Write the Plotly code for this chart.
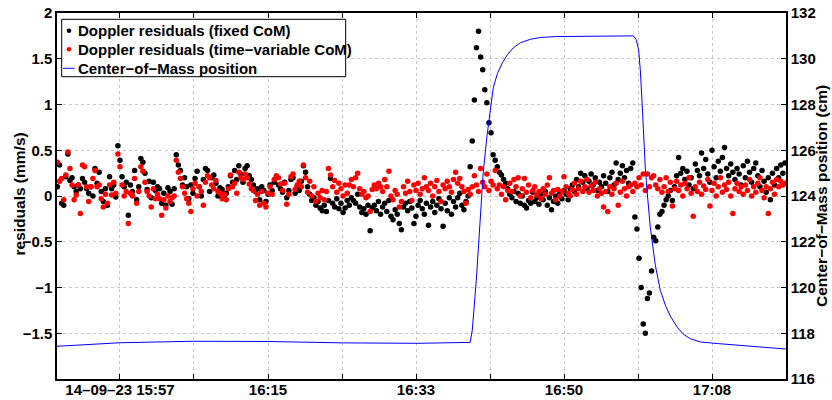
import plotly.graph_objects as go
import pandas as pd

# ---------------- data ----------------
DATE = "2014-09-23"
SAMPLE_START = "15:49:30"
SAMPLE_STEP = "15s"

fixed_com = [
    0.1, 0.34, -0.08, -0.1, 0.21, 0.46, 0.17, 0.2, 0.1, 0.05,
    0.12, 0.08, 0.19, 0.15, 0.08, 0.03, 0.1, 0.0, 0.3, 0.14,
    0.26, 0.05, -0.06, 0.08, -0.1, 0.21, 0.08, 0.12, -0.01, 0.55,
    0.39, 0.21, 0.1, 0.15, -0.21, 0.12, 0.05, 0.28, -0.04, 0.1,
    0.41, 0.37, 0.25, 0.07, 0.16, -0.02, 0.15, 0.06, 0.1, 0.08,
    -0.08, 0.03, -0.1, 0.09, 0.05, -0.09, 0.08, 0.45, 0.34, 0.28,
    0.12, 0.2, 0.1, -0.03, 0.12, 0.03, 0.19, 0.27, 0.1, 0.0,
    0.18, 0.3, 0.28, 0.05, 0.2, 0.23, 0.14, 0.0, 0.09, 0.07,
    0.0, 0.03, 0.1, 0.22, 0.15, 0.28, 0.18, 0.33, 0.24, 0.15,
    0.3, 0.33, 0.22, 0.18, 0.12, 0.05, 0.08, -0.04, 0.1, 0.06,
    -0.06, 0.02, 0.12, 0.06, 0.15, 0.2, 0.12, 0.08, 0.04, 0.15,
    -0.02, 0.06, 0.18, 0.2, 0.03, 0.1, 0.06, 0.16, 0.33, 0.26,
    0.1, 0.02, -0.05, -0.02, -0.1, -0.06, -0.13, -0.16, -0.1, -0.17,
    -0.05, 0.19, -0.08, -0.12, -0.03, -0.14, -0.08, -0.18, -0.13, -0.05,
    -0.1, -0.02, -0.05, -0.08, 0.02, -0.12, -0.18, -0.14, -0.2, -0.1,
    -0.38, -0.13, -0.1, -0.16, -0.06, -0.2, -0.12, -0.08, -0.17, -0.05,
    -0.22, -0.26, -0.15, -0.2, -0.3, -0.37, -0.12, -0.08, -0.16, -0.06,
    -0.13, -0.3, -0.22, -0.1, -0.05, -0.14, -0.2, -0.08, -0.32, -0.12,
    -0.06, -0.18, -0.1, -0.03, -0.14, -0.33, -0.08, -0.16, -0.02, -0.2,
    -0.06, -0.12, -0.02, 0.03, -0.1, -0.15, -0.06, 0.0, 0.32, 0.6,
    1.05, 1.62, 1.8, 1.52, 1.38, 1.16, 1.02, 0.8, 0.69, 0.45,
    0.39, 0.32, 0.26, 0.23, 0.18, 0.14, 0.08, 0.02, -0.02, 0.05,
    -0.06, 0.03, -0.08, 0.0, -0.1, -0.13, -0.05, -0.08, 0.04, -0.06,
    -0.02, -0.09, 0.02, -0.04, 0.05, -0.1, -0.02, -0.15, -0.06, 0.0,
    -0.08, 0.03, -0.03, 0.06, 0.02, -0.04, 0.08, 0.12, 0.05, 0.18,
    0.1, 0.25, 0.15, 0.22, 0.08, 0.16, 0.24, 0.12, 0.2, 0.06,
    0.15, 0.1, 0.22, 0.14, 0.05, 0.2, 0.26, 0.12, 0.36, 0.18,
    0.25, 0.33, 0.2, 0.28, 0.14, 0.3, 0.36, -0.23, -0.36, -0.68,
    -1.0, -1.4, -1.5, -1.12, -1.06, -0.82, -0.45, -0.49, -0.34, -0.2,
    -0.17, -0.1, -0.04, 0.0, 0.06, -0.05, 0.1, 0.22, 0.42, 0.25,
    0.3, 0.18, 0.27, 0.12, 0.2, 0.08, 0.35, 0.28, 0.22, 0.47,
    0.3, 0.4, 0.24, 0.15, 0.5, 0.32, 0.2, 0.38, 0.27, 0.42,
    0.53, 0.3, 0.22, 0.35, 0.26, 0.18, 0.3, 0.24, 0.12, 0.33,
    0.2, 0.38, 0.26, 0.15, 0.3, 0.36, 0.22, 0.1, 0.28, 0.16,
    0.04, 0.2, -0.04, 0.25, 0.12, 0.3, 0.2, 0.34, 0.25, 0.36,
]

variable_com = [
    0.37, 0.16, 0.19, -0.04, 0.23, 0.48, 0.3, 0.12, -0.04, 0.01,
    0.12, -0.19, 0.34, 0.32, 0.1, -0.06, 0.1, 0.19, 0.28, 0.1,
    0.12, -0.03, -0.12, 0.02, -0.08, 0.12, 0.01, 0.15, 0.03, 0.46,
    0.32, 0.12, 0.0, 0.05, -0.3, 0.03, 0.0, 0.19, -0.08, 0.05,
    0.32, 0.27, 0.15, 0.05, 0.0, -0.12, 0.08, -0.03, 0.02, -0.03,
    -0.21, -0.04, -0.13, 0.0, -0.06, -0.02, 0.0, 0.39, 0.26, 0.19,
    0.1, 0.03, -0.03, -0.08, -0.17, 0.08, 0.14, 0.0, 0.1, 0.05,
    -0.1, 0.15, 0.22, 0.2, 0.12, 0.08, 0.17, 0.05, 0.03, -0.03,
    0.02, -0.04, 0.08, 0.23, 0.1, 0.14, 0.03, 0.26, 0.2, 0.18,
    0.24, 0.2, 0.13, 0.08, 0.06, -0.05, 0.02, -0.1, 0.05, -0.08,
    -0.12, 0.03, 0.1, 0.02, 0.18, 0.22, 0.2, 0.13, 0.06, 0.14,
    -0.09, 0.02, 0.21, 0.24, 0.07, 0.12, 0.16, 0.1, 0.34, 0.2,
    0.04, 0.16, 0.0, 0.1, -0.06, 0.03, -0.02, 0.06, -0.04, 0.05,
    0.3, 0.23, 0.1, 0.17, 0.04, 0.14, 0.08, 0.0, 0.12, 0.03,
    0.12, 0.18, 0.1, 0.2, 0.25, 0.08, 0.02, 0.05, -0.02, 0.0,
    -0.17, 0.07, 0.12, 0.08, 0.14, 0.1, 0.05, 0.18, 0.1, 0.27,
    0.0, -0.04, 0.06, 0.02, -0.12, -0.06, 0.1, 0.03, 0.16, 0.05,
    -0.05, 0.12, 0.06, 0.14, 0.02, 0.08, 0.2, 0.1, 0.06, 0.14,
    0.0, 0.1, 0.17, 0.05, -0.06, 0.12, 0.08, 0.16, 0.1, 0.04,
    0.18, 0.26, 0.14, 0.19, 0.1, 0.05, -0.08, 0.07, 0.02, 0.1,
    0.22, 0.12, 0.05, 0.3, 0.15, 0.1, 0.24, 0.06, 0.16, 0.12,
    0.28, 0.08, 0.12, 0.02, 0.1, -0.04, 0.06, 0.14, 0.05, 0.18,
    0.1, 0.2, 0.0, 0.08, 0.19, 0.04, 0.12, -0.02, 0.06, 0.1,
    0.01, 0.05, -0.03, 0.08, 0.02, 0.12, 0.2, 0.03, 0.06, -0.04,
    0.07, 0.0, 0.05, 0.21, 0.1, 0.03, 0.0, 0.07, 0.14, 0.02,
    0.08, 0.16, 0.05, 0.1, 0.18, 0.04, 0.11, 0.06, 0.15, 0.0,
    0.08, 0.03, -0.12, 0.05, -0.17, 0.1, 0.02, 0.08, 0.14, -0.1,
    0.04, 0.16, 0.08, 0.0, 0.1, 0.12, 0.05, 0.14, 0.1, 0.2,
    0.12, 0.24, 0.06, 0.24, 0.1, 0.2, 0.22, 0.12, 0.08, 0.18,
    0.04, 0.1, 0.2, 0.05, 0.15, -0.11, 0.08, 0.16, 0.06, 0.12,
    0.0, 0.14, 0.08, 0.2, 0.03, -0.22, 0.1, 0.05, 0.15, 0.02,
    0.11, 0.07, 0.18, -0.11, 0.06, 0.14, 0.0, 0.1, 0.2, 0.04,
    0.12, 0.07, 0.15, 0.0, -0.19, 0.08, 0.14, 0.05, 0.1, 0.02,
    0.12, 0.06, 0.18, 0.0, 0.1, 0.04, 0.14, 0.2, 0.06, -0.02,
    0.1, -0.19, 0.08, 0.15, 0.02, 0.18, 0.1, 0.16, 0.12, 0.14,
]

com_times = [
    "15:49:26", "15:57:02", "16:05:47", "16:14:40", "16:23:40", "16:32:39",
    "16:39:00", "16:39:15", "16:39:44", "16:40:13", "16:40:34", "16:41:01",
    "16:41:25", "16:41:46", "16:42:15", "16:42:51", "16:43:27", "16:44:10",
    "16:45:01", "16:46:13", "16:47:25", "16:49:20", "16:58:34", "16:58:55",
    "16:59:12", "16:59:24", "16:59:36", "16:59:48", "17:00:00", "17:00:14",
    "17:00:36", "17:01:12", "17:01:48", "17:02:24", "17:03:00", "17:03:50",
    "17:04:34", "17:05:24", "17:06:36", "17:08:38", "17:16:52",
]
com_cm = [
    117.43, 117.585, 117.65, 117.64, 117.58, 117.56,
    117.6, 118.13, 120.32, 122.95, 125.05, 126.63,
    127.76, 128.73, 129.34, 129.82, 130.17, 130.48,
    130.70, 130.85, 130.93, 130.97, 131.0, 130.83,
    130.39, 129.52, 128.2, 126.45, 125.22, 124.13,
    122.64, 120.98, 119.88, 119.23, 118.75, 118.26,
    117.96, 117.76, 117.62, 117.55, 117.31,
]

x_range = ["15:49:26.7", "17:16:52.5"]
x_tick_times = ["15:57:00", "16:05:52.5", "16:14:45", "16:23:37.5", "16:32:30",
                "16:41:22.5", "16:50:15", "16:59:07.5", "17:08:00", "17:16:52.5"]
x_tick_text = ["14\u201309\u201323 15:57", "", "16:15", "", "16:33", "", "16:50", "", "17:08", ""]
left_ticks = [2, 1.5, 1, 0.5, 0, -0.5, -1, -1.5]
right_ticks = [116, 118, 120, 122, 124, 126, 128, 130, 132]

legend_names = ["Doppler residuals (fixed CoM)",
                "Doppler residuals (time\u2212variable CoM)",
                "Center\u2212of\u2212Mass position"]
left_title = "residuals (mm/s)"
right_title = "Center\u2212of\u2212Mass position (cm)"

# ---------------- figure ----------------
sample_times = pd.date_range(f"{DATE} {SAMPLE_START}", periods=len(fixed_com), freq=SAMPLE_STEP)
com_dt = pd.to_datetime([f"{DATE} {t}" for t in com_times])

FONT = "Liberation Sans, Arial, Helvetica, sans-serif"
fig = go.Figure()
fig.add_trace(go.Scatter(x=sample_times, y=fixed_com, mode="markers", name=legend_names[0],
                         marker=dict(color="black", size=5.5, line=dict(width=0)), yaxis="y"))
fig.add_trace(go.Scatter(x=sample_times, y=variable_com, mode="markers", name=legend_names[1],
                         marker=dict(color="#ff0000", size=5.5, line=dict(width=0)), yaxis="y"))
fig.add_trace(go.Scatter(x=com_dt, y=com_cm, mode="lines", name=legend_names[2],
                         line=dict(color="#0000ff", width=1), yaxis="y2"))

L, R, T, B = 57, 46, 13, 21
W, H = 832, 400
PW, PH = W - L - R, H - T - B


def pxx(px):
    return (px - L) / PW


def pxy(py):
    return (H - B - py) / PH


tickfont = dict(family=FONT, size=15, color="black", weight="bold")
fig.update_layout(
    width=W, height=H, margin=dict(l=L, r=R, t=T, b=B, pad=0, autoexpand=False),
    paper_bgcolor="white", plot_bgcolor="white", showlegend=False,
    font=dict(family=FONT, color="black"),
    xaxis=dict(
        type="date", automargin=False,
        range=[f"{DATE} {x_range[0]}", f"{DATE} {x_range[1]}"],
        tickmode="array",
        tickvals=[f"{DATE} {t}" for t in x_tick_times],
        ticktext=x_tick_text,
        ticks="inside", ticklen=5, tickcolor="black", tickwidth=1,
        showline=True, linecolor="black", linewidth=1.5, mirror="ticks",
        showgrid=True, gridcolor="#c8c8c8", griddash="dot", gridwidth=1,
        zeroline=False, tickfont=tickfont, ticklabelstandoff=-4,
    ),
    yaxis=dict(
        automargin=False,
        range=[-2, 2], tickmode="array", tickvals=left_ticks,
        ticks="inside", ticklen=5, tickcolor="black",
        showline=True, linecolor="black", linewidth=1.5,
        showgrid=True, gridcolor="#c8c8c8", griddash="dot", gridwidth=1,
        zeroline=False, tickfont=tickfont,
    ),
    yaxis2=dict(
        automargin=False,
        range=[116, 132], tickmode="array", tickvals=right_ticks,
        overlaying="y", side="right",
        ticks="inside", ticklen=5, tickcolor="black",
        showline=True, linecolor="black", linewidth=1.5,
        showgrid=False, zeroline=False, tickfont=tickfont,
    ),
)

# manual MATLAB-style legend
shapes = [dict(type="rect", xref="paper", yref="paper", x0=pxx(61.7), x1=pxx(345.7),
               y0=pxy(76.7), y1=pxy(19.3), line=dict(color="black", width=1),
               fillcolor="white", layer="above")]
rows = [30.7, 49.3, 68.3]
for color, ry in zip(["black", "#ff0000"], rows[:2]):
    shapes.append(dict(type="circle", xref="paper", yref="paper", xsizemode="pixel", ysizemode="pixel",
                       xanchor=pxx(69), yanchor=pxy(ry), x0=-2.3, x1=2.3, y0=-2.3, y1=2.3,
                       fillcolor=color, line=dict(width=0), layer="above"))
shapes.append(dict(type="line", xref="paper", yref="paper", x0=pxx(63), x1=pxx(74.5),
                   y0=pxy(rows[2]), y1=pxy(rows[2]), line=dict(color="#0000ff", width=1), layer="above"))
annotations = []
for name, ry in zip(legend_names, rows):
    annotations.append(dict(text=name, xref="paper", yref="paper", x=pxx(75.5), y=pxy(ry),
                            xanchor="left", yanchor="middle", showarrow=False,
                            font=dict(family=FONT, size=15, color="black", weight="bold")))
# axis titles (rotated)
annotations.append(dict(text=left_title, xref="paper", yref="paper", x=pxx(18.5), y=pxy(194),
                        xanchor="center", yanchor="middle", textangle=-90, showarrow=False,
                        font=dict(family=FONT, size=15.5, color="black", weight="bold")))
annotations.append(dict(text=right_title, xref="paper", yref="paper", x=pxx(821), y=pxy(196),
                        xanchor="center", yanchor="middle", textangle=-90, showarrow=False,
                        font=dict(family=FONT, size=15.5, color="black", weight="bold")))
fig.update_layout(shapes=shapes, annotations=annotations)

fig.write_html("out.html")
